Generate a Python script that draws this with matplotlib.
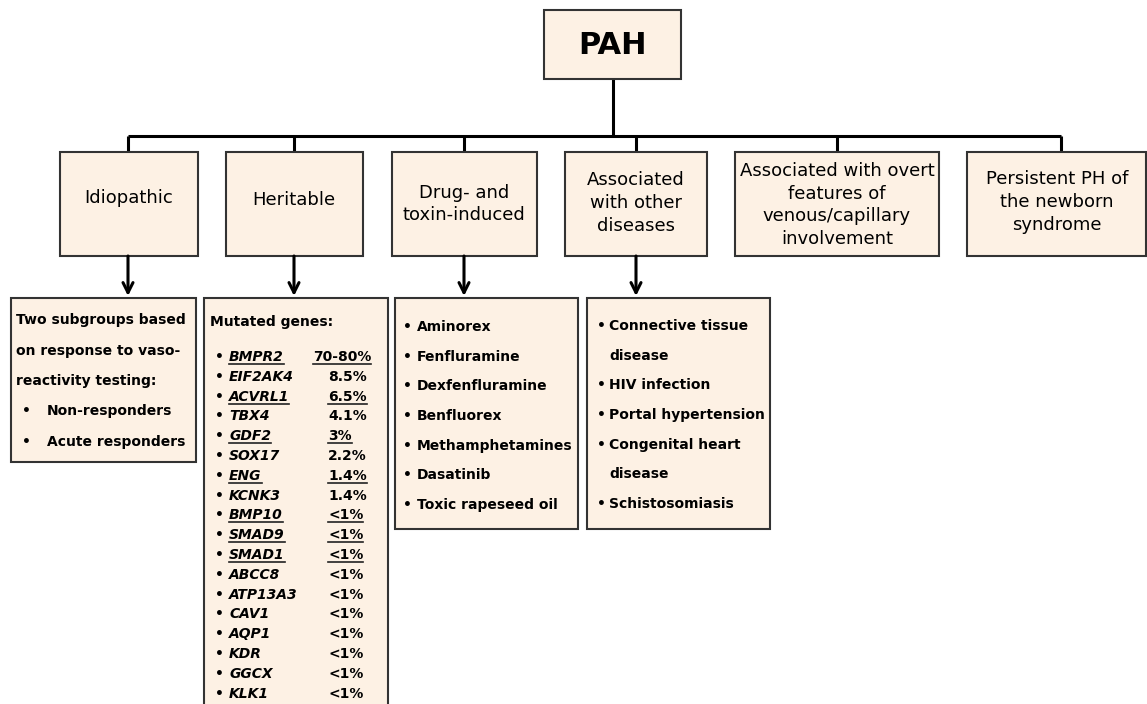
import matplotlib
matplotlib.use("Agg")
import matplotlib.pyplot as plt
from matplotlib.patches import Rectangle

# ---------------- content ----------------
root_label = "PAH"
group_labels = [
    "Idiopathic",
    "Heritable",
    "Drug- and\ntoxin-induced",
    "Associated\nwith other\ndiseases",
    "Associated with overt\nfeatures of\nvenous/capillary\ninvolvement",
    "Persistent PH of\nthe newborn\nsyndrome",
]
idiopathic_lines = ["Two subgroups based", "on response to vaso-", "reactivity testing:"]
idiopathic_bullets = ["Non-responders", "Acute responders"]
heritable_title = "Mutated genes:"
gene_names = ["BMPR2", "EIF2AK4", "ACVRL1", "TBX4", "GDF2", "SOX17", "ENG", "KCNK3",
              "BMP10", "SMAD9", "SMAD1", "ABCC8", "ATP13A3", "CAV1", "AQP1", "KDR",
              "GGCX", "KLK1"]
gene_freq = ["70-80%", "8.5%", "6.5%", "4.1%", "3%", "2.2%", "1.4%", "1.4%",
             "<1%", "<1%", "<1%", "<1%", "<1%", "<1%", "<1%", "<1%", "<1%", "<1%"]
gene_underlined = [True, False, True, False, True, False, True, False,
                   True, True, True, False, False, False, False, False, False, False]
drug_items = ["Aminorex", "Fenfluramine", "Dexfenfluramine", "Benfluorex",
              "Methamphetamines", "Dasatinib", "Toxic rapeseed oil"]
disease_lines = [("•", "Connective tissue"), ("", "disease"), ("•", "HIV infection"),
                 ("•", "Portal hypertension"), ("•", "Congenital heart"),
                 ("", "disease"), ("•", "Schistosomiasis")]

# ---------------- figure ----------------
W, H = 1147, 704
fig = plt.figure(figsize=(W / 100, H / 100), dpi=100)
ax = fig.add_axes([0, 0, 1, 1])
ax.set_xlim(0, W)
ax.set_ylim(H, 0)
ax.axis("off")

FILL = "#fdf1e4"
EDGE = "#333333"
FONT = "DejaVu Sans"
BOX_LW = 1.5
LINE_LW = 2.2


def box(x0, y0, x1, y1):
    ax.add_patch(Rectangle((x0, y0), x1 - x0, y1 - y0, facecolor=FILL,
                           edgecolor=EDGE, lw=BOX_LW, zorder=2))


def line(xs, ys):
    ax.plot(xs, ys, color="black", lw=LINE_LW, solid_capstyle="butt",
            solid_joinstyle="miter", zorder=1)


def arrow(x, y0, y1):
    ax.annotate("", xy=(x, y1), xytext=(x, y0),
                arrowprops=dict(arrowstyle="->", lw=LINE_LW, color="black",
                                mutation_scale=18, shrinkA=0, shrinkB=0),
                zorder=3)


# root
box(544, 10, 681, 79)
ax.text(612.5, 45, root_label, ha="center", va="center", fontsize=22,
        fontweight="bold", family=FONT, zorder=4)

# connectors
bar_y = 136
stems = [128, 294, 464, 636, 837, 1061]
line([613, 613], [79, bar_y])
line([stems[0], stems[-1]], [bar_y, bar_y])
for sx in stems:
    line([sx, sx], [bar_y, 152])

# level-2 boxes
group_boxes = [(60, 198), (226, 363), (392, 537), (565, 707), (735, 939), (967, 1146)]
group_text_x = [129, 294, 464, 636, 837, 1057]
group_text_y = [198, 200, 204, 203, 205, 202]
for (x0, x1), tx, ty, lab in zip(group_boxes, group_text_x, group_text_y, group_labels):
    box(x0, 152, x1, 256)
    ax.text(tx, ty, lab, ha="center", va="center", multialignment="center",
            fontsize=13, linespacing=1.33, family=FONT, zorder=4)

# arrows to detail boxes
for sx in stems[:4]:
    arrow(sx, 256, 296)

TXT = dict(fontsize=10, fontweight="bold", family=FONT, zorder=4)

# idiopathic detail
box(11, 298, 196, 462)
y = 320
step = 30.5
for s in idiopathic_lines:
    ax.text(16, y, s, ha="left", va="center", **TXT)
    y += step
for s in idiopathic_bullets:
    ax.text(22, y, "•", ha="left", va="center", **TXT)
    ax.text(47, y, s, ha="left", va="center", **TXT)
    y += step

# heritable detail
box(204, 298, 388, 730)
ax.text(210, 322, heritable_title, ha="left", va="center", **TXT)
underline_texts = []
gy = 356
gstep = 19.8
for name, freq, ul in zip(gene_names, gene_freq, gene_underlined):
    base = gy + 5
    ax.text(215, base, "•", ha="left", va="baseline", **TXT)
    t1 = ax.text(229, base, name, ha="left", va="baseline", style="italic", **TXT)
    fx = 313 if freq.startswith("70") else 328
    t2 = ax.text(fx, base, freq, ha="left", va="baseline", **TXT)
    if ul:
        underline_texts.append((t1, base))
        underline_texts.append((t2, base))
    gy += gstep

# drug detail
box(395, 298, 578, 529)
y = 327
dstep = 29.7
for s in drug_items:
    ax.text(403, y, "•", ha="left", va="center", **TXT)
    ax.text(417, y, s, ha="left", va="center", **TXT)
    y += dstep

# associated detail
box(587, 298, 770, 529)
y = 326
for b, s in disease_lines:
    if b:
        ax.text(597, y, b, ha="left", va="center", **TXT)
    ax.text(609, y, s, ha="left", va="center", **TXT)
    y += dstep

# underlines
fig.canvas.draw()
inv = ax.transData.inverted()
r = fig.canvas.get_renderer()
for t, base in underline_texts:
    bb = t.get_window_extent(renderer=r)
    (xa, _), (xb, _) = inv.transform([(bb.x0, bb.y0), (bb.x1, bb.y1)])
    ax.plot([xa, xb], [base + 3, base + 3], color="#222222", lw=1.2, zorder=4)

fig.savefig("out.png", dpi=100, facecolor="white")
